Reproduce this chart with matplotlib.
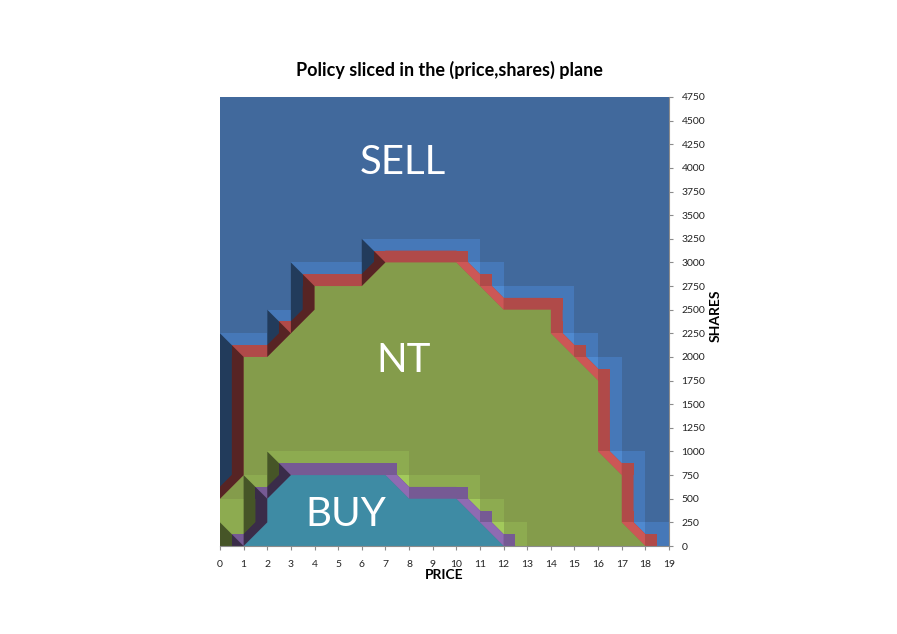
import numpy as np
import matplotlib
matplotlib.use("Agg")
import matplotlib.pyplot as plt
from matplotlib.patches import Polygon, Rectangle

# ---------------- data ----------------
# upper boundary of the NT (no-trade) region: vertices (price, shares)
nt_price = [0, 1, 1, 2, 4, 4, 6, 7, 10, 12, 14, 14, 16, 16, 17, 17, 18]
nt_shares = [500, 750, 2000, 2000, 2500, 2750, 2750, 3000, 3000, 2500, 2500, 2250, 1750, 1000, 750, 250, 0]
# upper boundary of the BUY region
buy_price = [0, 1, 2, 2, 3, 7, 8, 10, 12]
buy_shares = [-250, 0, 250, 500, 750, 750, 500, 500, 0]
# light step bands (one value per unit price cell k..k+1)
sell_band = [2250, 2250, 2500, 3000, 3000, 3000, 3250, 3250, 3250, 3250, 3250, 3000,
             2750, 2750, 2750, 2250, 2000, 1000, 250]
nt_band = [500, 750, 1000, 1000, 1000, 1000, 1000, 1000, 750, 750, 750, 500, 250]

price_ticks = list(range(0, 20))
share_ticks = list(range(0, 4751, 250))
region_labels = ["SELL", "NT", "BUY"]
title = "Policy sliced in the (price,shares) plane"

# ---------------- style ----------------
C_BLUE, C_BLUE_L, C_BLUE_B = "#41699c", "#4678b8", "#4f89cf"
C_RED, C_RED_L = "#b04a49", "#cc5756"
C_GREEN, C_GREEN_L, C_GREEN_B = "#849c4b", "#8dab50", "#a2c95b"
C_PURP, C_PURP_L = "#765a94", "#8f6bb2"
C_TEAL = "#3e8ba4"
DX, DY = 0.5, 125

plt.rcParams['font.family'] = ['Lato', 'DejaVu Sans']

W, H = 897, 634
fig = plt.figure(figsize=(W / 100, H / 100), dpi=100)
ax = fig.add_axes([220 / W, 88 / H, 449 / W, 449 / H])
ax.set_xlim(0, 19)
ax.set_ylim(0, 4750)


def top_at(px, sh, p):
    v = [s for x, s in zip(px, sh) if x == p]
    return max(v) if v else float(np.interp(p, px, sh))


def segs(px, sh):
    return [(px[i], sh[i], px[i + 1], sh[i + 1]) for i in range(len(px) - 1) if px[i + 1] > px[i]]


def patch(poly, c, z, a=1.0):
    ax.add_patch(Polygon(poly, closed=True, facecolor=c, edgecolor='none', lw=0, zorder=z, alpha=a))


def rect(x, y, w, h, c, z, a=1.0):
    ax.add_patch(Rectangle((x, y), w, h, facecolor=c, edgecolor='none', lw=0, zorder=z, alpha=a))


def draw_boundary(px, sh, band, c_stair, c_bright, c_band, c_band_l, c_front, z0):
    # step band
    for k, v in enumerate(band):
        rect(k, 0, 1, v, c_stair, z0)
    sg = segs(px, sh)
    # bright squares at falling diagonals
    for x0, y0, x1, y1 in sg:
        if y1 < y0:
            for p in range(int(np.ceil(x0 + 1e-9)), int(x1) + 1):
                if p > x0:
                    yp = y0 + (y1 - y0) * (p - x0) / (x1 - x0)
                    rect(p - DX, yp + DY, DX, DY, c_bright, z0 + 1)
    # band region (front face shifted)
    front = [(px[0], -600)] + list(zip(px, sh)) + [(px[-1], -600)]
    fa = np.array(front, dtype=float)
    for dx, dy in [(-DX, 0), (DX, 0), (0, DY)]:
        patch(fa + [dx, dy], c_band, z0 + 2)
    for p in range(int(px[0]), int(px[-1]) + 1):
        rect(p - DX, top_at(px, sh, p), 2 * DX, DY, c_band, z0 + 2)
    # lighter band along falling diagonals, then cells
    for x0, y0, x1, y1 in sg:
        if y1 < y0:
            patch([(x0, y0), (x1, y1), (x1, y1 + DY), (x0, y0 + DY)], c_band_l, z0 + 3)
            for p in range(int(x0), int(x1) + 1):
                yp = y0 + (y1 - y0) * (p - x0) / (x1 - x0)
                rect(p, yp, DX, DY, c_band, z0 + 4)
    # front face
    patch(fa, c_front, z0 + 5)


def draw_dark(px, sh, z):
    for x0, y0, x1, y1 in segs(px, sh):
        if y1 > y0:
            for k in range(int(x0), int(x1)):
                yk = y0 + (y1 - y0) * (k - x0) / (x1 - x0)
                yk1 = y0 + (y1 - y0) * (k + 1 - x0) / (x1 - x0)
                t = top_at(px, sh, k + 1)
                patch([(k, yk), (k + 1, yk1), (k + 1, t), (k, t + 2 * DY)], 'black', z, 0.5)


rect(0, 0, 19, 4750, C_BLUE, 0)
draw_boundary(nt_price, nt_shares, sell_band, C_BLUE_L, C_BLUE_B, C_RED, C_RED_L, C_GREEN, 1)
draw_boundary(buy_price, buy_shares, nt_band, C_GREEN_L, C_GREEN_B, C_PURP, C_PURP_L, C_TEAL, 10)
draw_dark(nt_price, nt_shares, 20)
draw_dark(buy_price, buy_shares, 20)

# axes styling
ax.set_xticks(price_ticks)
ax.set_xticklabels([str(v) for v in price_ticks], fontsize=7.5, color='#222222')
ax.yaxis.tick_right()
ax.set_yticks(share_ticks)
ax.set_yticklabels([str(v) for v in share_ticks], fontsize=7.5, color='#222222')
ax.tick_params(axis='both', length=3, width=0.8, color='#8c8c8c')
ax.tick_params(axis='x', pad=7)
ax.tick_params(axis='y', pad=6)
for s in ['top', 'left']:
    ax.spines[s].set_visible(False)
for s in ['bottom', 'right']:
    ax.spines[s].set_color('#8c8c8c')
    ax.spines[s].set_linewidth(0.8)
    ax.spines[s].set_zorder(30)

fig.text(449 / W, 1 - 70 / H, title, ha='center', va='center', fontsize=13, fontweight='bold')
fig.text(444 / W, 1 - 575 / H, "PRICE", ha='center', va='center', fontsize=10, fontweight='bold')
fig.text(716 / W, 1 - 316 / H, "SHARES", ha='center', va='center', fontsize=10,
         fontweight='bold', rotation=90)

fig.text(403 / W, 1 - 162 / H, region_labels[0], ha='center', va='center', fontsize=29, color='white')
fig.text(404 / W, 1 - 361 / H, region_labels[1], ha='center', va='center', fontsize=29, color='white')
fig.text(346 / W, 1 - 515 / H, region_labels[2], ha='center', va='center', fontsize=29, color='white')

fig.savefig("out.png", dpi=100)
